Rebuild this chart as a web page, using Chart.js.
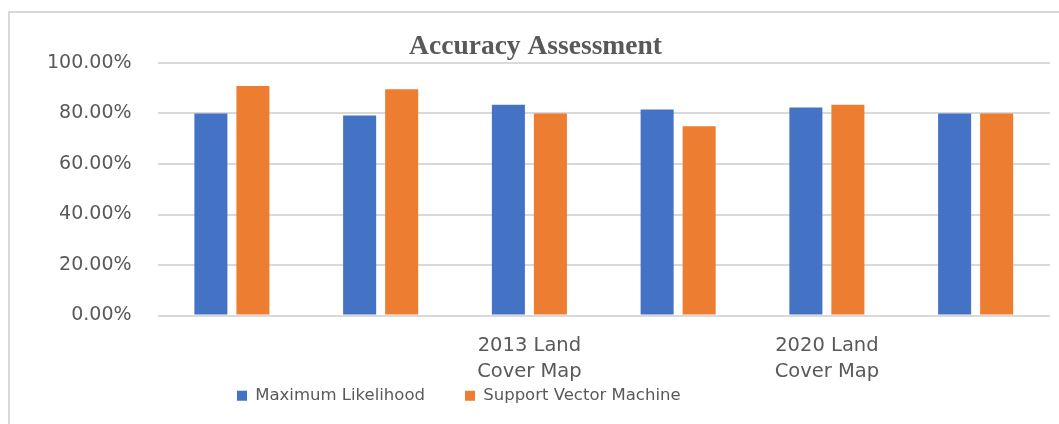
<!DOCTYPE html>
<html>
<head>
<meta charset="utf-8">
<script src="https://cdn.jsdelivr.net/npm/chart.js@4.4.1/dist/chart.umd.min.js"></script>
<style>
  html, body { margin: 0; padding: 0; background: #fff; }
  #wrap { position: relative; width: 1059px; height: 424px; }
  #frame {
    position: absolute; left: 8px; top: 11px; right: 0; bottom: 0;
    border-top: 2px solid #d9d9d9; border-left: 2px solid #d9d9d9;
  }
  canvas { position: absolute; left: 0; top: 0; }
</style>
</head>
<body>
<div id="wrap">
  <div id="frame"></div>
  <canvas id="accChart" width="1059" height="424"></canvas>
</div>
<script>
// ===== Chart data =====
const categories = [
  '', '',
  ['2013 Land', 'Cover Map'],
  '',
  ['2020 Land', 'Cover Map'],
  ''
];
const maxLikelihood = [80.0, 79.2, 83.5, 81.6, 82.4, 80.0];
const supportVector = [90.9, 89.6, 80.0, 75.0, 83.5, 80.0];
const yTicks = [0, 20, 40, 60, 80, 100];

const textGray = '#595959';
const gridGray = '#d9d9d9';
const sans = '"DejaVu Sans"';

// legend sits left of centre in the original
const legendShift = {
  id: 'legendShift',
  afterLayout(chart) {
    if (chart.legend) chart.legend.left = 197;
  }
};

const ctx = document.getElementById('accChart');
new Chart(ctx, {
  type: 'bar',
  data: {
    labels: categories,
    datasets: [
      {
        label: 'Maximum Likelihood',
        data: maxLikelihood,
        backgroundColor: '#4472c4',
        borderWidth: 0,
        barPercentage: 0.786,
        categoryPercentage: 0.565
      },
      {
        label: 'Support Vector Machine',
        data: supportVector,
        backgroundColor: '#ed7d31',
        borderWidth: 0,
        barPercentage: 0.786,
        categoryPercentage: 0.565
      }
    ]
  },
  plugins: [legendShift],
  options: {
    responsive: false,
    animation: false,
    layout: { padding: { left: 21, right: 9, top: 30, bottom: 10 } },
    plugins: {
      title: {
        display: true,
        text: 'Accuracy Assessment',
        color: textGray,
        font: { family: '"Liberation Serif"', size: 27.5, weight: 'bold' },
        padding: { top: 0, bottom: 0 }
      },
      legend: {
        position: 'bottom',
        align: 'start',
        labels: {
          color: textGray,
          font: { family: sans, size: 16.5 },
          boxWidth: 10,
          boxHeight: 10,
          padding: 40
        }
      },
      tooltip: { enabled: false }
    },
    scales: {
      x: {
        grid: { display: false, drawTicks: false },
        border: { display: false },
        // two-line labels run down into the legend band, like the original
        afterFit: axis => {
          axis.height = 32;
          axis._computeLabelArea = () => undefined;
        },
        ticks: {
          color: textGray,
          font: { family: sans, size: 19.5, lineHeight: 1.35 },
          maxRotation: 0,
          autoSkip: false,
          padding: 17
        }
      },
      y: {
        min: 0,
        max: 100,
        afterBuildTicks: axis => { axis.ticks = yTicks.map(v => ({ value: v })); },
        grid: { color: gridGray, lineWidth: 2, drawTicks: false },
        border: { display: false },
        ticks: {
          color: textGray,
          font: { family: sans, size: 19 },
          padding: 26,
          callback: v => v.toFixed(2) + '%'
        }
      }
    }
  }
});
</script>
</body>
</html>
